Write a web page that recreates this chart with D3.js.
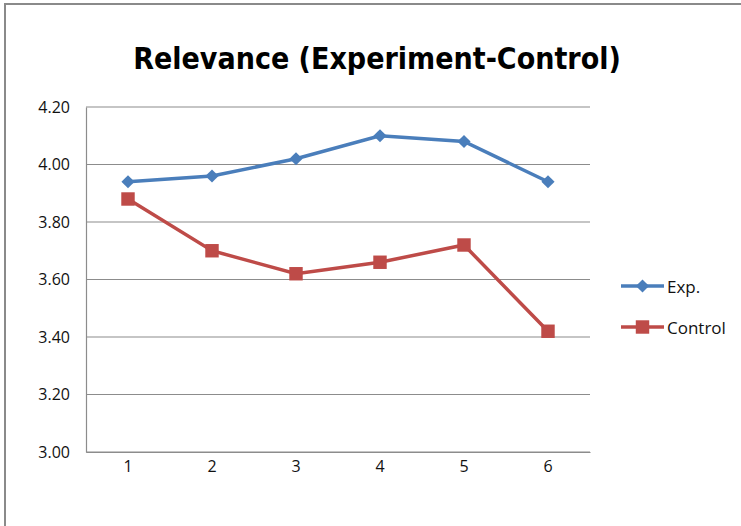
<!DOCTYPE html>
<html>
<head>
<meta charset="utf-8">
<script src="https://cdn.jsdelivr.net/npm/d3@7"></script>
<style>
  body { margin: 0; background: #fff; }
  text { font-family: "Liberation Sans Narrow", "Arial Narrow", "DejaVu Sans Condensed", sans-serif; }
</style>
</head>
<body>
<svg id="chart" width="741" height="526"></svg>
<script>
var categories = ["1", "2", "3", "4", "5", "6"];
var expValues = [3.94, 3.96, 4.02, 4.10, 4.08, 3.94];
var controlValues = [3.88, 3.70, 3.62, 3.66, 3.72, 3.42];
var yTicks = [3.00, 3.20, 3.40, 3.60, 3.80, 4.00, 4.20];
var seriesNames = ["Exp.", "Control"];

var margin = {top: 107, right: 151, bottom: 74, left: 86}
  , width = 741 - margin.left - margin.right
  , height = 526 - margin.top - margin.bottom;

var svg = d3.select("#chart");

// chart frame
svg.append("rect")
    .attr("x", 5).attr("y", 4)
    .attr("width", 760).attr("height", 540)
    .attr("fill", "none")
    .attr("stroke", "#8a8a8a")
    .attr("stroke-width", 2);

var title = svg.append("text")
    .attr("x", 377).attr("y", 69)
    .attr("text-anchor", "middle")
    .attr("font-size", 39)
    .attr("font-weight", "bold")
    .text("Relevance (Experiment-Control)");
// shrink to the reference title width
var tw = title.node().getComputedTextLength();
if (tw > 488) title.attr("font-size", 39 * 488 / tw);

var g = svg.append("g")
    .attr("transform", "translate(" + margin.left + "," + margin.top + ")");

var xScale = d3.scaleBand().domain(categories).range([0, width]);
var yScale = d3.scaleLinear().domain([3.0, 4.2]).range([height, 0]);

// gridlines
g.selectAll("line.grid")
    .data(yTicks)
    .enter().append("line")
    .attr("class", "grid")
    .attr("x1", 0).attr("x2", width)
    .attr("y1", function(d) { return yScale(d); })
    .attr("y2", function(d) { return yScale(d); })
    .attr("stroke", "#8c8c8c")
    .attr("stroke-width", 1.2);

var yAxis = g.append("g")
    .call(d3.axisLeft(yScale).tickValues(yTicks).tickFormat(d3.format(".2f")).tickSize(0).tickPadding(16));
yAxis.select(".domain").attr("stroke", "#8c8c8c").attr("stroke-width", 1.2);
yAxis.selectAll("text").attr("fill", "#111")
    .style("font-family", "'Open Sans', sans-serif").attr("font-size", 16);

var xAxis = g.append("g")
    .attr("transform", "translate(0," + height + ")")
    .call(d3.axisBottom(xScale).tickSize(0).tickPadding(9));
xAxis.select(".domain").attr("stroke", "#8c8c8c").attr("stroke-width", 1.2);
xAxis.selectAll("text").attr("fill", "#111")
    .style("font-family", "'Open Sans', sans-serif").attr("font-size", 16);

var colors = ["#4a7ebb", "#be4b48"];
var series = [expValues, controlValues];

var line = d3.line()
    .x(function(d, i) { return xScale(categories[i]) + xScale.bandwidth() / 2; })
    .y(function(d) { return yScale(d); });

var diamond = d3.symbol().type(d3.symbolDiamond2).size(110);
var square = d3.symbol().type(d3.symbolSquare2).size(230);

series.forEach(function(vals, s) {
    g.append("path")
        .datum(vals)
        .attr("d", line)
        .attr("fill", "none")
        .attr("stroke", colors[s])
        .attr("stroke-width", 3.5);
    g.selectAll("path.m" + s)
        .data(vals)
        .enter().append("path")
        .attr("class", "m" + s)
        .attr("transform", function(d, i) {
            return "translate(" + (xScale(categories[i]) + xScale.bandwidth() / 2) + "," + yScale(d) + ")";
        })
        .attr("d", s === 0 ? diamond : square)
        .attr("fill", colors[s]);
});

// legend
var legend = svg.append("g").attr("transform", "translate(621,286)");
seriesNames.forEach(function(name, s) {
    var row = legend.append("g").attr("transform", "translate(0," + (s * 41) + ")");
    row.append("line")
        .attr("x1", 0).attr("x2", 43)
        .attr("stroke", colors[s]).attr("stroke-width", 3.5);
    row.append("path")
        .attr("transform", "translate(21.5,0)")
        .attr("d", s === 0 ? diamond : square)
        .attr("fill", colors[s]);
    row.append("text")
        .attr("x", 46).attr("y", 7)
        .attr("fill", "#111")
        .style("font-family", "'Open Sans', sans-serif")
        .attr("font-size", 17)
        .text(name);
});
</script>
</body>
</html>
